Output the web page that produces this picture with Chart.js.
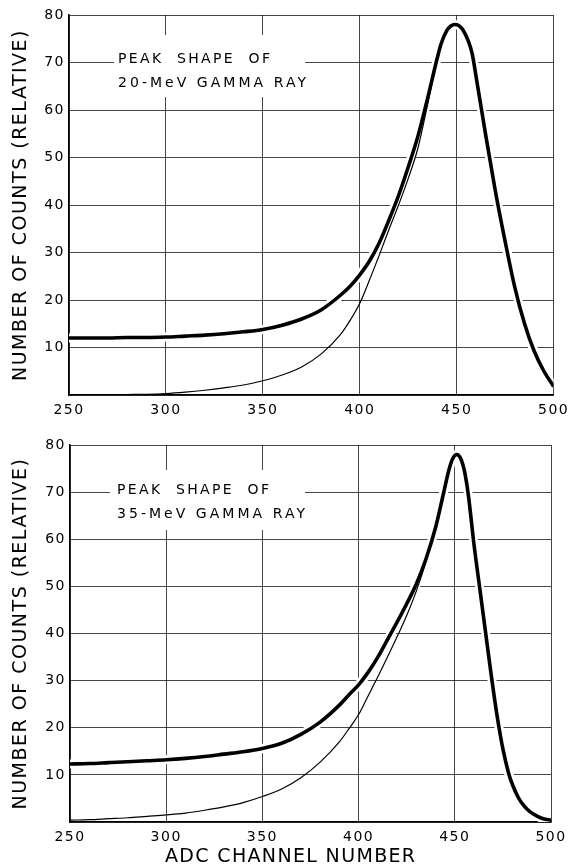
<!DOCTYPE html>
<html><head><meta charset="utf-8">
<script src="https://cdn.jsdelivr.net/npm/chart.js@4.4.0/dist/chart.umd.min.js"></script>
<style>
html,body{margin:0;padding:0;background:#fff;}
#wrap{position:relative;width:574px;height:866px;background:#fff;}
canvas{position:absolute;left:0;}
#c1{top:0;}
#c2{top:430px;}
</style></head><body>
<div id="wrap"><canvas id="c1" width="574" height="430"></canvas><canvas id="c2" width="574" height="436"></canvas></div>
<script>
// ---- tick labels ----
const xTickValues = [250, 300, 350, 400, 450, 500];
const yTickValues = [0, 10, 20, 30, 40, 50, 60, 70, 80];

// ---- texts ----
const yAxisTitle = 'NUMBER OF COUNTS (RELATIVE)';
const xAxisTitle = 'ADC CHANNEL NUMBER';
const noteTop = ['PEAK  SHAPE  OF', '20-MeV GAMMA RAY'];
const noteBottom = ['PEAK  SHAPE  OF', '35-MeV GAMMA RAY'];

// ---- 20-MeV panel ----
const top_thickChannels = [250,260,270,280,290,300,310,320,330,340,350,360,370,380,390,395,400,405,410,415,420,425,430,435,440,442,445,447,449,451,453,456,458,460,465,470,475,480,485,490,495,500];
const top_thickCounts   = [12.0,12.0,12.0,12.1,12.1,12.2,12.4,12.6,12.9,13.3,13.8,14.7,16.0,17.9,21.0,22.9,25.3,28.2,32.0,36.8,42.0,48.0,54.5,62.5,71.0,74.0,76.8,77.7,78.0,77.8,77.0,74.5,71.8,67.0,54.6,42.8,32.3,22.6,15.0,9.2,5.0,1.8];
const top_thinChannels  = [250,260,270,280,290,300,310,320,330,340,350,360,370,380,390,395,400,405,410,415,420,425,430,435,440];
const top_thinCounts    = [0.0,0.0,0.05,0.1,0.15,0.3,0.6,1.0,1.5,2.1,3.0,4.2,5.9,8.6,12.7,15.7,19.3,24.2,29.4,34.8,40.0,45.6,52.0,61.2,71.0];

// ---- 35-MeV panel ----
const bot_thickChannels = [250,260,270,280,290,300,310,320,330,340,350,360,370,380,390,395,400,405,410,415,420,425,430,435,440,444,447,449,451,453,455,457,460,463,466,469,472,475,478,480,483,486,489,493,496,500];
const bot_thickCounts   = [12.3,12.4,12.6,12.8,13.0,13.2,13.5,13.9,14.4,14.9,15.6,16.7,18.6,21.2,24.8,27.0,29.1,31.8,35.0,38.7,42.4,46.3,50.5,55.8,62.5,69.5,74.8,77.2,78.0,77.2,74.5,69.5,58.8,49.5,40.2,31.0,22.5,15.5,10.3,7.9,5.2,3.4,2.2,1.2,0.7,0.4];
const bot_thinChannels  = [250,260,270,280,290,300,310,320,330,340,350,360,370,380,390,395,400,405,410,415,420,425,430,435,440];
const bot_thinCounts    = [0.4,0.5,0.7,0.9,1.2,1.5,1.9,2.5,3.2,4.1,5.4,7.0,9.4,12.7,17.0,19.8,22.8,26.8,30.8,35.0,39.3,43.8,49.0,55.2,62.5];

const FONT = '"DejaVu Sans", "Liberation Sans", sans-serif';
const INK = '#000';
const GRID = 'rgba(0,0,0,0.72)';

const spacingPlugin = {
  id: 'spacing',
  beforeDraw(chart) { chart.ctx.letterSpacing = '1.5px'; }
};

// draw a text line stretched (by letter spacing) to a target width
function fitText(ctx, text, x, y, targetW) {
  ctx.letterSpacing = '0px';
  const w = ctx.measureText(text).width;
  const gaps = Math.max(1, text.length - 1);
  const sp = Math.max(0, (targetW - w) / gaps);
  ctx.letterSpacing = sp.toFixed(2) + 'px';
  ctx.fillText(text, x, y);
}

function notePlugin(lines, box, x, baselines, widths) {
  return {
    id: 'note',
    beforeDatasetsDraw(chart) {
      const ctx = chart.ctx;
      ctx.save();
      ctx.fillStyle = '#fff';
      ctx.fillRect(box[0], box[1], box[2] - box[0], box[3] - box[1]);
      ctx.fillStyle = INK;
      ctx.font = '14px ' + FONT;
      ctx.textAlign = 'left';
      ctx.textBaseline = 'alphabetic';
      lines.forEach((t, i) => fitText(ctx, t, x, baselines[i], widths[i]));
      ctx.restore();
    }
  };
}

function xTitlePlugin(text, cx, cy, w) {
  return {
    id: 'xtitle',
    afterDraw(chart) {
      const ctx = chart.ctx;
      ctx.save();
      ctx.fillStyle = INK;
      ctx.font = '19px ' + FONT;
      ctx.textAlign = 'left';
      ctx.textBaseline = 'middle';
      fitText(ctx, text, cx - w / 2, cy, w);
      ctx.restore();
    }
  };
}

function pts(xs, ys) { return xs.map((x, i) => ({ x: x, y: ys[i] })); }

function makeChart(id, cfg) {
  const thick = pts(cfg.thickX, cfg.thickY);
  const thin = pts(cfg.thinX, cfg.thinY);
  const plugins = [spacingPlugin, notePlugin(cfg.note, cfg.box, cfg.noteX, cfg.noteY, [152, 188])];
  if (cfg.xTitle) plugins.push(xTitlePlugin(cfg.xTitle, 290, cfg.xTitleY, 250));
  return new Chart(document.getElementById(id), {
    type: 'line',
    data: {
      datasets: [
        { label: 'halo', data: thick, borderColor: '#fff', borderWidth: 9, pointRadius: 0,
          cubicInterpolationMode: 'monotone', order: 3, clip: 0 },
        { label: 'thin', data: thin, borderColor: INK, borderWidth: 1.2, pointRadius: 0,
          cubicInterpolationMode: 'monotone', order: 2 },
        { label: 'thick', data: thick, borderColor: INK, borderWidth: 3.6, pointRadius: 0,
          cubicInterpolationMode: 'monotone', order: 1 }
      ]
    },
    options: {
      responsive: false,
      animation: false,
      events: [],
      layout: { padding: { top: cfg.padTop, right: cfg.padRight, left: 0, bottom: 0 } },
      plugins: { legend: { display: false }, tooltip: { enabled: false } },
      scales: {
        x: {
          type: 'linear', min: 250, max: 500,
          afterBuildTicks: s => { s.ticks = xTickValues.map(v => ({ value: v })); },
          afterFit: s => { s.height = cfg.xAxisH; },
          grid: { color: GRID, lineWidth: 1, drawTicks: false },
          border: { color: INK, width: 1.5 },
          ticks: { color: INK, font: { family: FONT, size: 14 }, padding: 7, maxRotation: 0, autoSkip: false }
        },
        y: {
          type: 'linear', min: 0, max: 80,
          afterBuildTicks: s => { s.ticks = yTickValues.map(v => ({ value: v })); },
          afterFit: s => { s.width = cfg.left; },
          grid: { color: GRID, lineWidth: 1, drawTicks: false },
          border: { color: INK, width: 1.5 },
          ticks: { color: INK, font: { family: FONT, size: 14 }, padding: 4,
                   callback: v => (v === 0 ? '' : String(v)) },
          title: { display: true, text: yAxisTitle, color: INK,
                   font: { family: FONT, size: 19 }, padding: { top: 10, bottom: 0 } }
        }
      }
    },
    plugins: plugins
  });
}

makeChart('c1', {
  thickX: top_thickChannels, thickY: top_thickCounts,
  thinX: top_thinChannels, thinY: top_thinCounts,
  note: noteTop, box: [114, 35, 305, 97], noteX: 118, noteY: [63, 87],
  padTop: 15, padRight: 19, left: 69, xAxisH: 35
});

makeChart('c2', {
  thickX: bot_thickChannels, thickY: bot_thickCounts,
  thinX: bot_thinChannels, thinY: bot_thinCounts,
  note: noteBottom, box: [110, 40, 305, 100], noteX: 117, noteY: [64, 88],
  padTop: 15, padRight: 23, left: 70, xAxisH: 44,
  xTitle: xAxisTitle, xTitleY: 427
});
</script>
</body></html>
